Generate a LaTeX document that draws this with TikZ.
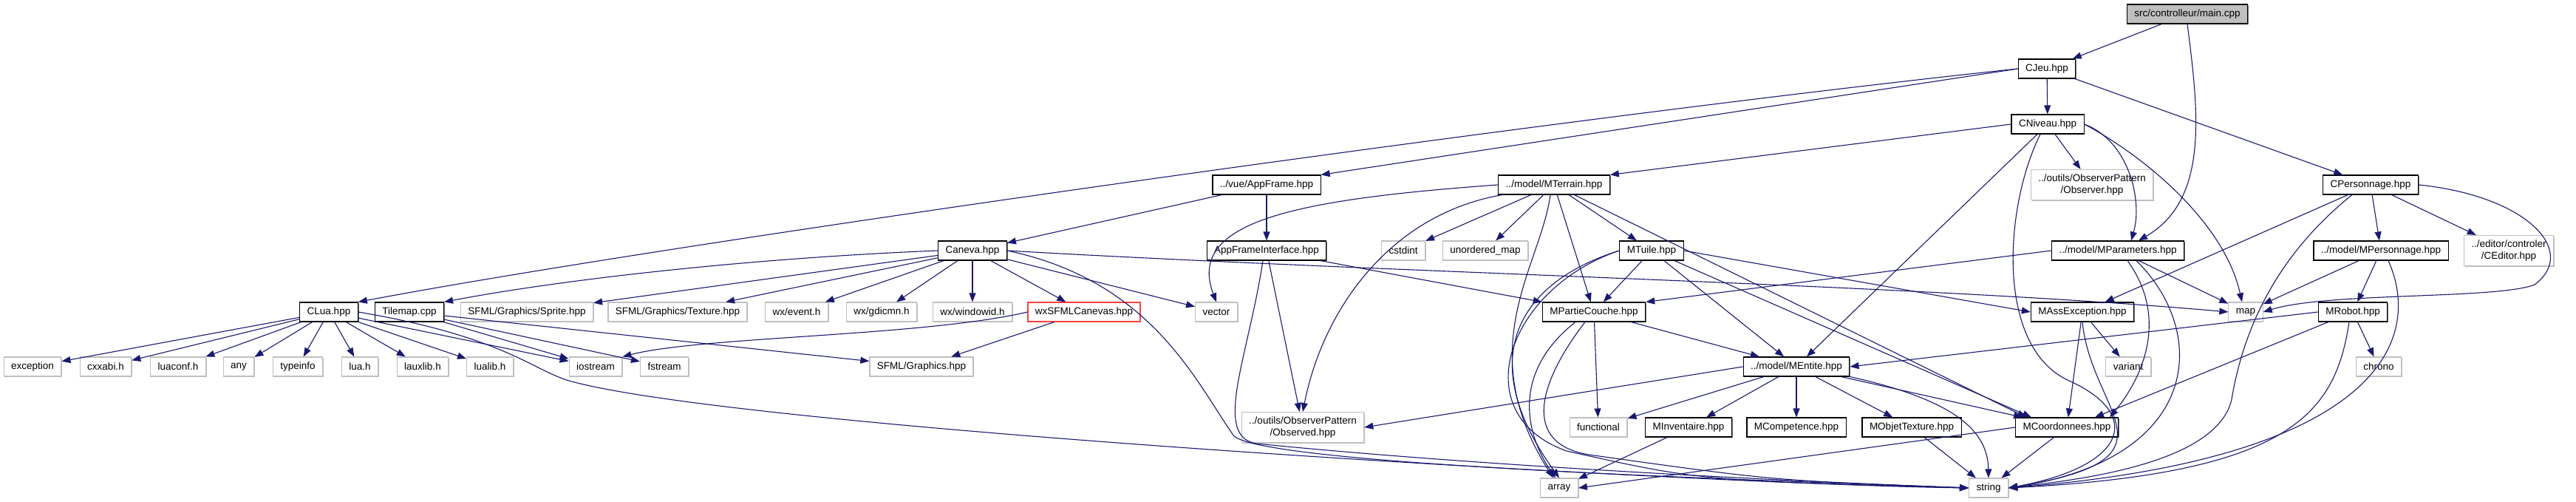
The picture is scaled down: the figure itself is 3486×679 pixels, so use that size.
\documentclass[tikz,border=0pt]{standalone}
\usepackage{fontspec}
\setmainfont{Liberation Sans}
\usetikzlibrary{arrows.meta,shadows}
\definecolor{edge}{RGB}{25,25,112}
\definecolor{frame}{RGB}{191,191,191}
\definecolor{rootfill}{RGB}{191,191,191}
\definecolor{warn}{RGB}{255,64,64}
\tikzset{
  >={Triangle[length=12pt,width=9pt]},
  node base/.style={fill=white,line width=1.1pt,minimum height=26pt,inner xsep=10pt,inner ysep=2pt,
    font=\fontsize{13.5}{15.5}\selectfont,align=center},
  hdr/.style={node base,draw=black,
    drop shadow={shadow xshift=1.3pt,shadow yshift=-1.3pt,opacity=1,fill=black!55}},
  root/.style={hdr,fill=rootfill},
  sys/.style={node base,draw=frame,
    drop shadow={shadow xshift=1.3pt,shadow yshift=-1.3pt,opacity=1,fill=frame}},
  undoc/.style={node base,draw=warn},
  inc/.style={->,draw=edge,line width=1.1pt},
}
\begin{document}
\begin{tikzpicture}[x=1pt,y=-1pt]
  \useasboundingbox (0,0) rectangle (3486,679);
  % top of the graph
  \node[root] (main) at (2960,19) {src/controlleur/main.cpp};
  \node[hdr] (cjeu) at (2770,93) {CJeu.hpp};
  \node[hdr] (cniveau) at (2771,168) {CNiveau.hpp};
  \node[sys,minimum height=41pt] (observer) at (2831,250) {../outils/ObserverPattern\\/Observer.hpp};
  \node[hdr] (cperso) at (3208,250) {CPersonnage.hpp};
  \node[hdr] (appframe) at (1714,250) {../vue/AppFrame.hpp};
  \node[hdr] (mterrain) at (2103,250) {../model/MTerrain.hpp};
  % second level
  \node[hdr] (mparam) at (2866,339) {../model/MParameters.hpp};
  \node[hdr] (mperso) at (3222,339) {../model/MPersonnage.hpp};
  \node[sys,minimum height=41pt] (ceditor) at (3395,339) {../editor/controler\\/CEditor.hpp};
  \node[hdr] (caneva) at (1316,339) {Caneva.hpp};
  \node[hdr] (appfi) at (1714,339) {AppFrameInterface.hpp};
  \node[sys] (cstdint) at (1899,339) {cstdint};
  \node[sys] (umap) at (2010,339) {unordered\_map};
  \node[hdr] (mtuile) at (2235,339) {MTuile.hpp};
  % third level
  \node[hdr] (clua) at (445,422) {CLua.hpp};
  \node[hdr] (tilemap) at (554,422) {Tilemap.cpp};
  \node[sys] (sprite) at (713,422) {SFML/Graphics/Sprite.hpp};
  \node[sys] (texture) at (917,422) {SFML/Graphics/Texture.hpp};
  \node[sys] (event) at (1078,422) {wx/event.h};
  \node[sys] (gdicmn) at (1193,422) {wx/gdicmn.h};
  \node[sys] (windowid) at (1316,422) {wx/windowid.h};
  \node[undoc] (wxsfml) at (1467,422) {wxSFMLCanevas.hpp};
  \node[sys] (vector) at (1646,422) {vector};
  \node[hdr] (mpartie) at (2157,422) {MPartieCouche.hpp};
  \node[hdr] (massexc) at (2818,422) {MAssException.hpp};
  \node[sys] (map) at (3039,422) {map};
  \node[hdr] (mrobot) at (3184,422) {MRobot.hpp};
  % fourth level
  \node[sys] (exception) at (44,496) {exception};
  \node[sys] (cxxabi) at (143,496) {cxxabi.h};
  \node[sys] (luaconf) at (241,496) {luaconf.h};
  \node[sys] (any) at (323,496) {any};
  \node[sys] (typeinfo) at (403,496) {typeinfo};
  \node[sys] (luah) at (487,496) {lua.h};
  \node[sys] (lauxlib) at (572,496) {lauxlib.h};
  \node[sys] (lualib) at (663,496) {lualib.h};
  \node[sys] (iostream) at (806,496) {iostream};
  \node[sys] (fstream) at (899,496) {fstream};
  \node[sys] (sfmlgfx) at (1247,496) {SFML/Graphics.hpp};
  \node[hdr] (mentite) at (2431,496) {../model/MEntite.hpp};
  \node[sys] (variant) at (2880,496) {variant};
  \node[sys] (chrono) at (3219,496) {chrono};
  % fifth level
  \node[sys,minimum height=41pt] (observed) at (1763,578) {../outils/ObserverPattern\\/Observed.hpp};
  \node[sys] (functional) at (2163,578) {functional};
  \node[hdr] (minv) at (2285,578) {MInventaire.hpp};
  \node[hdr] (mcomp) at (2431,578) {MCompetence.hpp};
  \node[hdr] (mobjtex) at (2587,578) {MObjetTexture.hpp};
  \node[hdr] (mcoord) at (2797,578) {MCoordonnees.hpp};
  % bottom
  \node[sys] (array) at (2110,660) {array};
  \node[sys] (string) at (2691,660) {string};

  % includes
  \draw[inc] (main) -- (cjeu);
  \draw[inc] (main.south) .. controls (2975,150) and (2990,270) .. ([xshift=28pt]mparam.north);
  \draw[inc] (cjeu) -- (cniveau);
  \draw[inc] (cjeu) -- (cperso);
  \draw[inc] (cjeu.west) -- (appframe.north east);
  \draw[inc] (cjeu.west) .. controls (2100,160) and (900,330) .. (clua.north east);
  \draw[inc] (cniveau.west) -- (mterrain.north east);
  \draw[inc] (cniveau) -- (observer);
  \draw[inc] (cniveau.east) .. controls (2880,190) and (2900,270) .. ([xshift=18pt]mparam.north);
  \draw[inc] (cniveau.east) .. controls (2900,210) and (3010,300) .. ([xshift=-5pt]map.north);
  \draw[inc] (cniveau) -- (mentite);
  \draw[inc] ([xshift=-10pt]cniveau.south) .. controls (2712,280) and (2700,470) .. (2800,515)
    .. controls (2900,560) and (2880,630) .. (string.east);
  \draw[inc] (cperso) -- (massexc);
  \draw[inc] (cperso) -- (mperso);
  \draw[inc] (cperso) -- (ceditor);
  \draw[inc] (cperso.east) .. controls (3420,265) and (3490,340) .. (3430,385)
    .. controls (3380,405) and (3150,395) .. (map.east);
  \draw[inc] ([xshift=-25pt]cperso.south) .. controls (3100,330) and (3040,420) .. (3020,540)
    .. controls (3000,630) and (2800,650) .. (string.east);
  \draw[inc] (mparam.west) -- (mpartie.north east);
  \draw[inc] (mparam) -- (map);
  \draw[inc] ([xshift=13pt]mparam.south) .. controls (2935,430) and (2900,510) .. ([xshift=58pt]mcoord.north);
  \draw[inc] ([xshift=25pt]mparam.south) .. controls (2990,450) and (2980,620) .. (string.east);
  \draw[inc] (mperso) -- (map);
  \draw[inc] (mperso) -- (mrobot);
  \draw[inc] ([xshift=10pt]mperso.south) .. controls (3280,460) and (3220,620) .. (string.east);
  \draw[inc] (mrobot.west) -- (mentite.east);
  \draw[inc] (mrobot) -- ([xshift=38pt]mcoord.north);
  \draw[inc] (mrobot) -- (chrono);
  \draw[inc] ([xshift=-5pt]mrobot.south) .. controls (3160,560) and (3100,640) .. (string.east);
  \draw[inc] (massexc) -- (variant);
  \draw[inc] (massexc) -- (mcoord);
  \draw[inc] (massexc.south) .. controls (2830,560) and (2960,620) .. (string.east);
  \draw[inc] (appframe) -- (caneva);
  \draw[inc] (appframe) -- (appfi);
  \draw[inc] (appfi) -- (mpartie.north west);
  \draw[inc] (appfi) -- (observed);
  \draw[inc] ([xshift=-5pt]appfi.south) .. controls (1690,480) and (1640,590) .. (1700,600)
    .. controls (2000,630) and (2400,650) .. (string.west);
  \draw[inc] (mterrain.west) .. controls (1750,270) and (1605,300) .. (vector.north);
  \draw[inc] ([xshift=-70pt]mterrain.south) .. controls (1880,290) and (1790,420) .. (observed.north);
  \draw[inc] (mterrain) -- (cstdint);
  \draw[inc] (mterrain) -- (umap);
  \draw[inc] ([xshift=-5pt]mterrain.south) .. controls (2085,360) and (1990,470) .. ([xshift=-8pt]array.north);
  \draw[inc] (mterrain) -- (mpartie);
  \draw[inc] (mterrain) -- (mtuile);
  \draw[inc] (mterrain) -- ([xshift=-55pt]mcoord.north);
  \draw[inc] (caneva.west) .. controls (1000,350) and (750,380) .. (tilemap.north east);
  \draw[inc] (caneva) -- (sprite);
  \draw[inc] (caneva) -- (texture);
  \draw[inc] (caneva) -- (event);
  \draw[inc] (caneva) -- (gdicmn);
  \draw[inc] (caneva) -- (windowid);
  \draw[inc] (caneva) -- (wxsfml);
  \draw[inc] (caneva) -- (vector);
  \draw[inc] (caneva.east) .. controls (1900,370) and (2600,385) .. (map.west);
  \draw[inc] (caneva.east) .. controls (1560,380) and (1620,520) .. (1670,590)
    .. controls (1720,630) and (2400,650) .. (string.west);
  \draw[inc] (mtuile) -- (mpartie);
  \draw[inc] (mtuile) -- (mentite);
  \draw[inc] (mtuile) -- ([xshift=-48pt]mcoord.north);
  \draw[inc] (mtuile.east) -- (massexc.west);
  \draw[inc] (mtuile.west) .. controls (2060,380) and (1990,480) .. (array.north);
  \draw[inc] (mtuile.west) .. controls (2040,390) and (1980,560) .. (2120,610)
    .. controls (2300,650) .. (string.west);
  \draw[inc] (clua) -- (exception);
  \draw[inc] (clua) -- (cxxabi);
  \draw[inc] (clua) -- (luaconf);
  \draw[inc] (clua) -- (any);
  \draw[inc] (clua) -- (typeinfo);
  \draw[inc] (clua) -- (luah);
  \draw[inc] (clua) -- (lauxlib);
  \draw[inc] (clua) -- (lualib);
  \draw[inc] (clua) -- (iostream);
  \draw[inc] (clua.east) .. controls (680,455) and (720,500) .. (770,515)
    .. controls (1000,580) and (2300,655) .. (string.west);
  \draw[inc] (tilemap) -- (iostream);
  \draw[inc] (tilemap) -- (fstream);
  \draw[inc] (tilemap) -- (sfmlgfx);
  \draw[inc] (wxsfml) -- (sfmlgfx);
  \draw[inc] (wxsfml.west) .. controls (1250,455) and (950,455) .. (iostream.north east);
  \draw[inc] (mpartie) -- (mentite);
  \draw[inc] (mpartie) -- (functional);
  \draw[inc] ([xshift=-25pt]mpartie.south) .. controls (2050,500) and (2060,580) .. ([xshift=-5pt]array.north);
  \draw[inc] ([xshift=-12pt]mpartie.south) .. controls (2080,520) and (2060,600) .. (2150,615)
    .. controls (2400,650) .. (string.west);
  \draw[inc] (mentite.west) -- (observed.east);
  \draw[inc] (mentite) -- (functional);
  \draw[inc] (mentite) -- (minv);
  \draw[inc] (mentite) -- (mcomp);
  \draw[inc] (mentite) -- (mobjtex);
  \draw[inc] (mentite) -- ([xshift=-60pt]mcoord.north);
  \draw[inc] (mentite.south east) .. controls (2640,540) and (2690,580) .. (string.north);
  \draw[inc] (minv) -- (array);
  \draw[inc] (mobjtex) -- (string);
  \draw[inc] (mcoord.west) -- (array.east);
  \draw[inc] (mcoord) -- (string);
\end{tikzpicture}
\end{document}
